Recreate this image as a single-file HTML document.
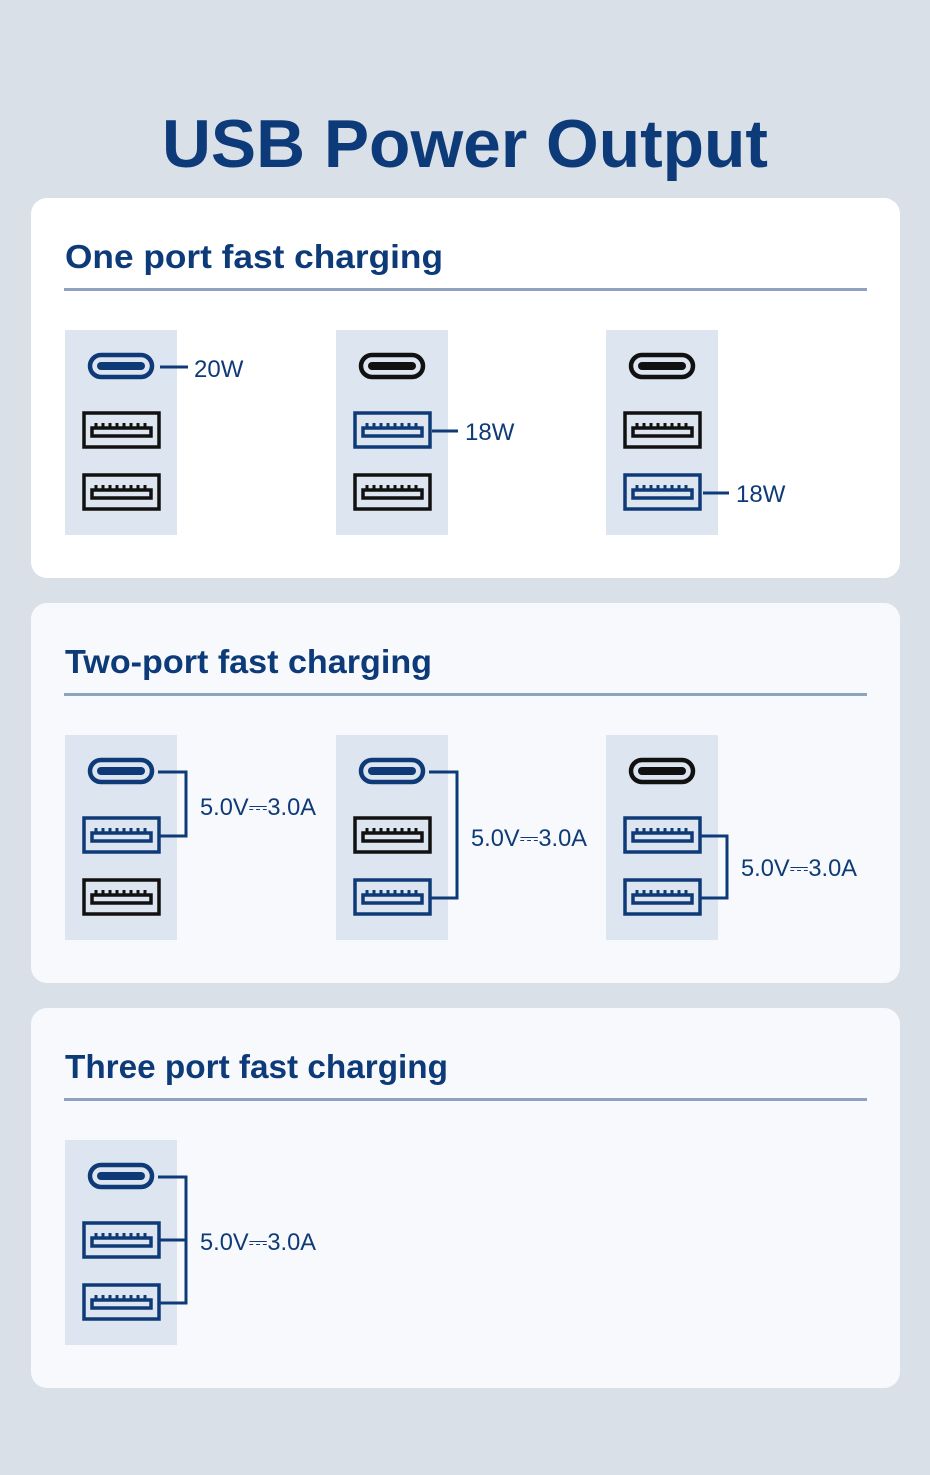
<!DOCTYPE html>
<html><head><meta charset="utf-8"><style>
html,body{margin:0;padding:0;background:#d9e0e8;}
svg{display:block}
</style></head><body>
<svg width="930" height="1475" viewBox="0 0 930 1475" xmlns="http://www.w3.org/2000/svg" font-family="Liberation Sans, sans-serif">
<defs>
<g id="cB"><rect x="25" y="25" width="62" height="22" rx="11" fill="none" stroke="#0e3b78" stroke-width="4.5"/><rect x="32" y="32" width="48" height="8" rx="4" fill="#0e3b78"/></g>
<g id="cK"><rect x="25" y="25" width="62" height="22" rx="11" fill="none" stroke="#111" stroke-width="4.5"/><rect x="32" y="32" width="48" height="8" rx="4" fill="#111"/></g>
<g id="aB" stroke="#0e3b78" fill="none"><rect x="19" y="2" width="75" height="34" stroke-width="3.5"/><rect x="27" y="17" width="59" height="8" stroke-width="3.5"/><path d="M31 17v-5M38 17v-5M45 17v-5M52 17v-5M59 17v-5M66 17v-5M73 17v-5M80 17v-5" stroke-width="3"/></g>
<g id="aK" stroke="#111" fill="none"><rect x="19" y="2" width="75" height="34" stroke-width="3.5"/><rect x="27" y="17" width="59" height="8" stroke-width="3.5"/><path d="M31 17v-5M38 17v-5M45 17v-5M52 17v-5M59 17v-5M66 17v-5M73 17v-5M80 17v-5" stroke-width="3"/></g>
</defs>
<text x="465" y="167" text-anchor="middle" font-size="68" font-weight="bold" fill="#0d3a78" textLength="606" lengthAdjust="spacingAndGlyphs">USB Power Output</text>

<rect x="31" y="198" width="869" height="380" rx="16" fill="#ffffff"/>
<rect x="31" y="603" width="869" height="380" rx="16" fill="#f7f9fc"/>
<rect x="31" y="1008" width="869" height="380" rx="16" fill="#f7f9fc"/>

<g font-size="33" font-weight="bold" fill="#0d3a78">
<text x="65" y="268" textLength="378" lengthAdjust="spacingAndGlyphs">One port fast charging</text>
<text x="65" y="673" textLength="367" lengthAdjust="spacingAndGlyphs">Two-port fast charging</text>
<text x="65" y="1078" textLength="383" lengthAdjust="spacingAndGlyphs">Three port fast charging</text>
</g>
<g fill="#8fa3bf"><rect x="64" y="288" width="803" height="3"/><rect x="64" y="693" width="803" height="3"/><rect x="64" y="1098" width="803" height="3"/></g>

<g fill="#dde5f0">
<rect x="65" y="330" width="112" height="205"/><rect x="336" y="330" width="112" height="205"/><rect x="606" y="330" width="112" height="205"/>
<rect x="65" y="735" width="112" height="205"/><rect x="336" y="735" width="112" height="205"/><rect x="606" y="735" width="112" height="205"/>
<rect x="65" y="1140" width="112" height="205"/>
</g>

<g transform="translate(65,330)"><use href="#cB"/><use href="#aK" y="81"/><use href="#aK" y="143"/></g>
<g transform="translate(336,330)"><use href="#cK"/><use href="#aB" y="81"/><use href="#aK" y="143"/></g>
<g transform="translate(606,330)"><use href="#cK"/><use href="#aK" y="81"/><use href="#aB" y="143"/></g>
<g transform="translate(65,735)"><use href="#cB"/><use href="#aB" y="81"/><use href="#aK" y="143"/></g>
<g transform="translate(336,735)"><use href="#cB"/><use href="#aK" y="81"/><use href="#aB" y="143"/></g>
<g transform="translate(606,735)"><use href="#cK"/><use href="#aB" y="81"/><use href="#aB" y="143"/></g>
<g transform="translate(65,1140)"><use href="#cB"/><use href="#aB" y="81"/><use href="#aB" y="143"/></g>

<g stroke="#0e3b78" stroke-width="3" fill="none">
<path d="M160 367H188"/>
<path d="M432 431H458"/>
<path d="M703 493H729"/>
<path d="M158 772H186V836H158"/>
<path d="M429 772H457V898H429"/>
<path d="M700 836H727V898H700"/>
<path d="M158 1177H186V1303H158M158 1240H186"/>
</g>
<g font-size="24" fill="#0e3b78">
<text x="194" y="377">20W</text>
<text x="465" y="440">18W</text>
<text x="736" y="502">18W</text>
<text x="200" y="815" textLength="116" lengthAdjust="spacingAndGlyphs">5.0V⎓3.0A</text>
<text x="471" y="846" textLength="116" lengthAdjust="spacingAndGlyphs">5.0V⎓3.0A</text>
<text x="741" y="876" textLength="116" lengthAdjust="spacingAndGlyphs">5.0V⎓3.0A</text>
<text x="200" y="1250" textLength="116" lengthAdjust="spacingAndGlyphs">5.0V⎓3.0A</text>
</g>
</svg>
</body></html>
